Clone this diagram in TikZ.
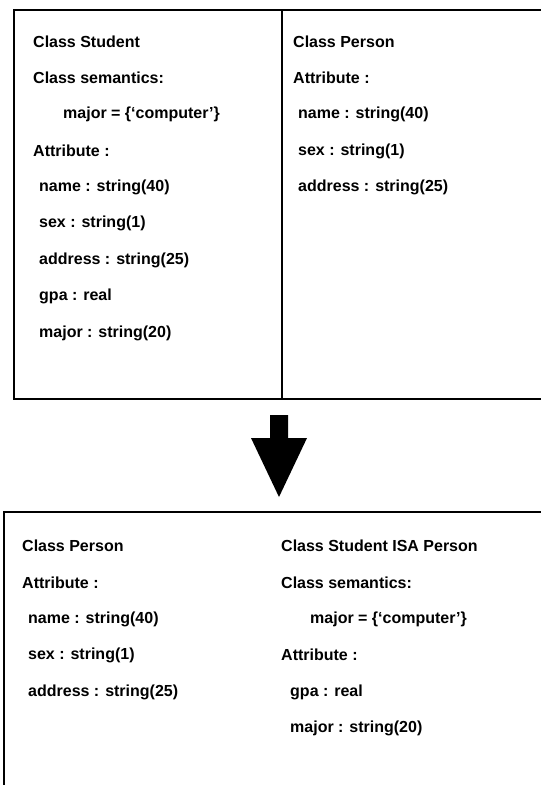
\documentclass[tikz,border=0pt]{standalone}
\usepackage{fontspec}
\setmainfont{Liberation Sans}
\begin{document}
\begin{tikzpicture}[x=1pt,y=-1pt,
  frame/.style={line width=2pt,line cap=rect},
  txt/.style={anchor=west,inner sep=0pt,font=\fontsize{16}{19}\selectfont\bfseries},
  bigarrow/.style={fill=black,draw=none}]
\useasboundingbox (0,0) rectangle (541,785);
\fill[white] (0,0) rectangle (541,785);

% upper frame: two side-by-side class panels
\coordinate (tl) at (14,10);
\coordinate (tr) at (541,10);
\coordinate (bl) at (14,399);
\coordinate (br) at (541,399);
\coordinate (mt) at (282,10);
\coordinate (mb) at (282,399);
\draw[frame] (tr) -- (tl) -- (bl) -- (br);
\draw[frame] (mt) -- (mb);

% Student panel
\node[txt] (s1) at (33,42)  {Class Student};
\node[txt] (s2) at (33,78)  {Class semantics:};
\node[txt] (s3) at (63,114) {major = \{‘computer’\}};
\node[txt] (s4) at (33,151) {Attribute :};
\node[txt] (s5) at (39,187) {name : string(40)};
\node[txt] (s6) at (39,223) {sex : string(1)};
\node[txt] (s7) at (39,260) {address : string(25)};
\node[txt] (s8) at (39,296) {gpa : real};
\node[txt] (s9) at (39,333) {major : string(20)};

% Person panel
\node[txt] (p1) at (293,42)  {Class Person};
\node[txt] (p2) at (293,78)  {Attribute :};
\node[txt] (p3) at (298,114) {name : string(40)};
\node[txt] (p4) at (298,151) {sex : string(1)};
\node[txt] (p5) at (298,187) {address : string(25)};

% block arrow between the two frames
\fill[bigarrow] (270,415) -- (288,415) -- (288,438) -- (307,438)
  -- (279,497) -- (251,438) -- (270,438) -- cycle;

% lower frame: result of the transformation
\coordinate (ltl) at (4,512);
\coordinate (ltr) at (541,512);
\coordinate (lbl) at (4,785);
\draw[frame] (ltr) -- (ltl) -- (lbl);

\node[txt] (q1) at (22,546) {Class Person};
\node[txt] (q2) at (22,583) {Attribute :};
\node[txt] (q3) at (28,619) {name : string(40)};
\node[txt] (q4) at (28,655) {sex : string(1)};
\node[txt] (q5) at (28,692) {address : string(25)};

\node[txt] (r1) at (281,546) {Class Student ISA Person};
\node[txt] (r2) at (281,583) {Class semantics:};
\node[txt] (r3) at (310,619) {major = \{‘computer’\}};
\node[txt] (r4) at (281,655) {Attribute :};
\node[txt] (r5) at (290,692) {gpa : real};
\node[txt] (r6) at (290,728) {major : string(20)};
\end{tikzpicture}
\end{document}
